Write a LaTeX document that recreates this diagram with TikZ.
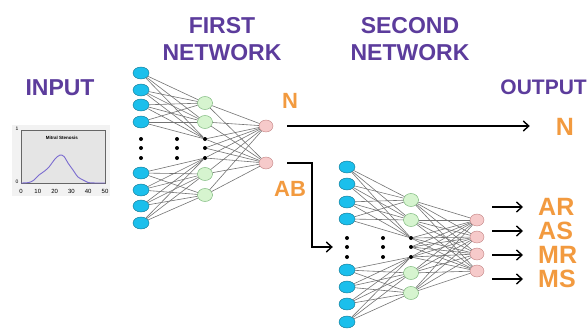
\documentclass[tikz,border=0pt]{standalone}
\usepackage{fontspec}
\setmainfont{Liberation Sans}
\usetikzlibrary{arrows.meta,positioning,shapes.geometric}
\definecolor{headpurple}{HTML}{5C3C9C}
\definecolor{tagorange}{HTML}{F29A3F}
\definecolor{inblue}{HTML}{1BBFEC}
\definecolor{hidgreen}{HTML}{D6F4CF}
\definecolor{outpink}{HTML}{F6CACA}
\definecolor{curveblue}{HTML}{7A6BD0}
\tikzset{%
	inunit/.style   = {draw=inblue!60!black, fill=inblue, ellipse, minimum width=16pt, minimum height=12pt, inner sep=0pt},
	hidunit/.style  = {draw=green!45!black!60, fill=hidgreen, ellipse, minimum width=15pt, minimum height=13pt, inner sep=0pt},
	outunit/.style  = {draw=red!50!black!50, fill=outpink, ellipse, minimum width=14pt, minimum height=12pt, inner sep=0pt},
	dotunit/.style  = {fill=black, circle, minimum size=4pt, inner sep=0pt},
	link/.style     = {draw=black!55, line width=0.6pt},
	heading/.style  = {text=headpurple, font=\fontsize{23}{27}\selectfont\bfseries, align=center, inner sep=0pt},
	tag/.style      = {text=tagorange, font=\fontsize{22}{24}\selectfont\bfseries, inner sep=0pt},
	bigtag/.style   = {text=tagorange, font=\fontsize{25}{25}\selectfont\bfseries, inner sep=0pt},
	bigarrow/.style = {line width=1.4pt, -{Straight Barb[length=5.5pt,width=10pt]}},
}

\begin{document}
\begin{tikzpicture}[x=1pt,y=-1pt]
	\useasboundingbox (0,0) rectangle (588,329);
	\clip (0,0) rectangle (588,329);
	
	% headings
	\node[heading] (first) at (222,39) {FIRST\\NETWORK};
	\node[heading] (second) at (410,39) {SECOND\\NETWORK};
	\node[heading] (input) at (60,88) {INPUT};
	\node[heading, font=\fontsize{21}{25}\selectfont\bfseries, anchor=east] (output) at (587,87) {OUTPUT};
	
	% input curve
	\fill[black!5] (12,125) rectangle (110,196);
	\draw[fill=black!10, draw=black!60, line width=0.8pt] (21,130) rectangle (105,183);
	\draw[curveblue, line width=0.9pt] plot[smooth] coordinates {(21,183) (29,182.5) (34,180) (39,175) (44,171.5) (49,167) (55,159) (60,155) (64,156.5) (68,163) (73,170) (78,177) (84,180.5) (88,182.5) (96,183) (105,183)};
	\node[font=\fontsize{4.5}{5}\selectfont\bfseries] (ptitle) at (62,138) {Mitral Stenosis};
	\foreach \t [count=\k from 0] in {0,10,20,30,40,50}
		\node[font=\fontsize{6}{6}\selectfont] (tick\t) at (21+\k*16.8,191) {\t};
	\node[font=\fontsize{5}{5}\selectfont] (yone) at (17,129) {1};
	\node[font=\fontsize{5}{5}\selectfont] (yzero) at (17,182) {0};
	
	% first network
	\foreach \y [count=\i] in {73,90,105,122,173,190,206,223}
		\node[inunit] (a\i) at (141,\y) {};
	\foreach \y [count=\i] in {103,122,174,195}
		\node[hidunit] (h\i) at (205,\y) {};
	\foreach \y [count=\i] in {126,163}
		\node[outunit] (o\i) at (266,\y) {};
	\foreach \x/\n in {141/ad,177/md,205/hd}
		\foreach \y [count=\i] in {139,148,158}
			\node[dotunit] (\n\i) at (\x,\y) {};
	\foreach \i in {1,...,4} {
		\foreach \j in {1,2} \draw[link] (a\i) -- (h\j);
		\draw[link] (a\i) -- (hd1);
	}
	\foreach \i in {5,...,8} {
		\foreach \j in {3,4} \draw[link] (a\i) -- (h\j);
		\draw[link] (a\i) -- (hd3);
	}
	\foreach \k in {1,2} {
		\foreach \j in {1,...,4} \draw[link] (h\j) -- (o\k);
		\foreach \j in {1,...,3} \draw[link] (hd\j) -- (o\k);
	}
	\node[tag] (tagn) at (290,101) {N};
	\node[tag] (tagab) at (290,189) {AB};
	
	% second network
	\foreach \y [count=\i] in {167,184,202,219,270,287,304,322}
		\node[inunit] (sa\i) at (347,\y) {};
	\foreach \y [count=\i] in {200,220,273,293}
		\node[hidunit] (sh\i) at (411,\y) {};
	\foreach \y [count=\i] in {220,237,254,271}
		\node[outunit] (so\i) at (477,\y) {};
	\foreach \x/\n in {347/sad,383/smd,411/shd}
		\foreach \y [count=\i] in {238,247,257}
			\node[dotunit] (\n\i) at (\x,\y) {};
	\foreach \i in {1,...,4} {
		\foreach \j in {1,2} \draw[link] (sa\i) -- (sh\j);
		\draw[link] (sa\i) -- (shd1);
	}
	\foreach \i in {5,...,8} {
		\foreach \j in {3,4} \draw[link] (sa\i) -- (sh\j);
		\draw[link] (sa\i) -- (shd3);
	}
	\foreach \k in {1,...,4} {
		\foreach \j in {1,...,4} \draw[link] (sh\j) -- (so\k);
		\foreach \j in {1,...,3} \draw[link] (shd\j) -- (so\k);
	}
	
	% outputs
	\node[bigtag] (outn) at (565,127) {N};
	\foreach \t/\y in {AR/207,AS/231,MR/255,MS/279} {
		\node[bigtag, anchor=west] (out\t) at (538,\y) {\t};
		\coordinate (from\t) at (492,\y);
		\draw[bigarrow, shorten >=15pt] (from\t) -- (out\t.west);
	}
	\draw[bigarrow, shorten <=14pt, shorten >=26pt] (o1.east) -- (o1.east -| outn.west);
	\coordinate (abbend) at (312,247);
	\draw[bigarrow, shorten <=14pt, shorten >=12pt] (o2.east) -| (abbend) -- (sad2.west);
\end{tikzpicture}
\end{document}
